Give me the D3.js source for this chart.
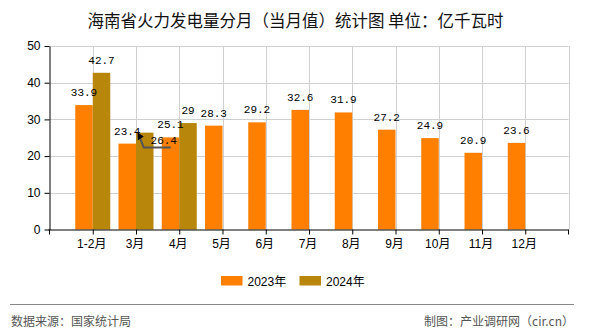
<!DOCTYPE html>
<html><head><meta charset="utf-8">
<script src="https://cdn.jsdelivr.net/npm/d3@7/dist/d3.min.js"></script>
<style>body{margin:0;background:#fff;}svg{display:block;}</style>
</head><body>
<svg id="c" width="590" height="330"></svg>
<script>
const categories = ["1-2月","3月","4月","5月","6月","7月","8月","9月","10月","11月","12月"];
const series2023 = [33.9,23.4,25.1,28.3,29.2,32.6,31.9,27.2,24.9,20.9,23.6];
const series2024 = [42.7,26.4,29,null,null,null,null,null,null,null,null];
const yTicks = [0,10,20,30,40,50];
const seriesNames = ["2023年","2024年"];
const colors = ["#ff8000","#b8860b"];

const svg = d3.select("#c");
const L = 49.5, R = 568.5, T = 46, B = 229.5;
const x = d3.scalePoint().domain(categories).range([L, R]).padding(1);
const y = d3.scaleLinear().domain([0,50]).range([B, T]);
const step = x.step();
const bw = 17.5;

svg.append("text").attr("x",295.5).attr("y",27).attr("text-anchor","middle")
  .attr("font-family","'Noto Sans CJK SC'").attr("font-size",16.5).attr("fill","#111")
  .text("海南省火力发电量分月（当月值）统计图 单位：亿千瓦时");

// grid
const g = svg.append("g");
g.selectAll(".hg").data(yTicks.filter(d=>d>0)).enter().append("line")
  .attr("x1",L).attr("x2",R).attr("y1",d=>Math.round(y(d))+0.5).attr("y2",d=>Math.round(y(d))+0.5)
  .attr("stroke","#d0d0d0");
const vgrid = d3.range(1,13).map(k=>L+k*step);
g.selectAll(".vg").data(vgrid).enter().append("line")
  .attr("x1",d=>Math.round(d)+0.5).attr("x2",d=>Math.round(d)+0.5).attr("y1",T).attr("y2",B)
  .attr("stroke","#d0d0d0");

// bars
const bars = svg.append("g");
categories.forEach((c,i)=>{
  const v1 = series2023[i], v2 = series2024[i];
  bars.append("rect").attr("x",x(c)-bw).attr("width",bw).attr("y",y(v1)).attr("height",B-y(v1)).attr("fill",colors[0]);
  if(v2!=null) bars.append("rect").attr("x",x(c)).attr("width",bw).attr("y",y(v2)).attr("height",B-y(v2)).attr("fill",colors[1]);
});

// axes
const ya = d3.axisLeft(y).tickValues(yTicks).tickSize(5).tickSizeOuter(0).tickFormat(d3.format("d"));
const yg = svg.append("g").attr("transform",`translate(${L},0)`).call(ya);
yg.select(".domain").attr("stroke","#000");
yg.selectAll("text").attr("font-family","'Liberation Sans','DejaVu Sans'").attr("font-size",12).attr("fill","#000").attr("dx",-1);
const xa = d3.axisBottom(x).tickSize(5).tickSizeOuter(0);
const xg = svg.append("g").attr("transform",`translate(0,${B})`).call(xa);
xg.select(".domain").attr("stroke","#000").attr("d",`M${L-1},0.5H${R}`);
xg.selectAll("text").attr("font-family","'Liberation Sans','Noto Sans CJK SC'").attr("font-size",12).attr("fill","#000").attr("dx",-1.5).attr("dy","0.9em");
xg.append("line").attr("x1",R).attr("x2",R).attr("y1",0).attr("y2",5).attr("stroke","#000");
xg.append("line").attr("x1",L).attr("x2",L).attr("y1",0).attr("y2",5).attr("stroke","#000");

// labels
const lf = "'Liberation Mono','DejaVu Sans Mono'";
const lab = svg.append("g").attr("font-family",lf).attr("font-size",11).attr("fill","#000").attr("text-anchor","middle");
categories.forEach((c,i)=>{
  lab.append("text").attr("x",x(c)-bw/2).attr("y",y(series2023[i])-9).text(series2023[i]);
  const v2 = series2024[i];
  if(v2!=null){
    if(c==="3月"){
      const tx = x(c)+bw/2, ty = y(v2);
      svg.append("path").attr("d",`M${tx-6},${ty+2}L${tx-1},${ty+15}H${tx+26}`).attr("fill","none").attr("stroke","#555").attr("stroke-width",2);
      svg.append("path").attr("d",`M${tx-7},${ty}l0,8l6,-4z`).attr("fill","#000");
      svg.append("text").attr("font-family",lf).attr("font-size",11).attr("x",tx+19).attr("y",ty+11).attr("text-anchor","middle").text(v2);
    } else {
      lab.append("text").attr("x",x(c)+bw/2).attr("y",y(v2)-9).text(v2);
    }
  }
});

// legend
const lg = svg.append("g").attr("font-family","'Liberation Sans','Noto Sans CJK SC'").attr("font-size",12);
[221,299.5].forEach((lx,i)=>{
  lg.append("rect").attr("x",lx).attr("y",276).attr("width",21.5).attr("height",9.5).attr("fill",colors[i]);
  lg.append("text").attr("x",lx+26.5).attr("y",285.5).attr("fill","#000").text(seriesNames[i]);
});

// footer
svg.append("line").attr("x1",10).attr("x2",574).attr("y1",304.5).attr("y2",304.5).attr("stroke","#888");
svg.append("text").attr("x",11).attr("y",326).attr("font-family","'Noto Sans CJK SC'").attr("font-size",12).attr("fill","#555").text("数据来源：国家统计局");
svg.append("text").attr("x",574).attr("y",326).attr("text-anchor","end").attr("font-family","'Noto Sans CJK SC'").attr("font-size",12).attr("fill","#555").text("制图：产业调研网（cir.cn）");
</script>
</body></html>
